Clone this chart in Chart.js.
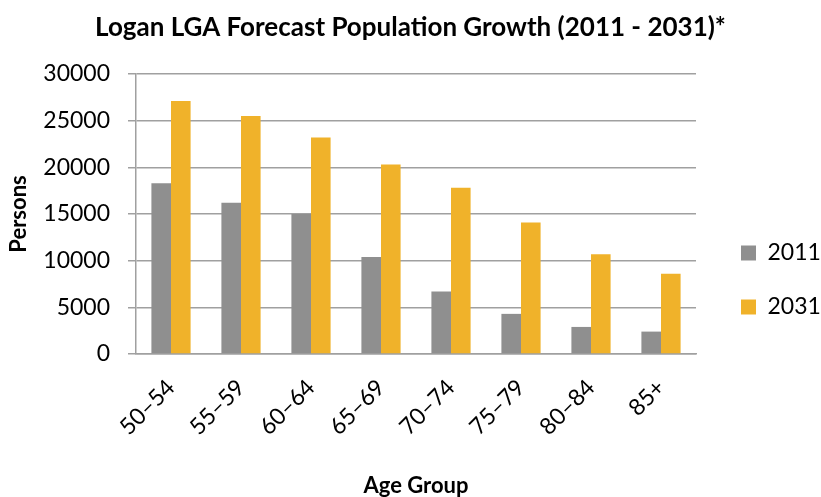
<!DOCTYPE html>
<html>
<head>
<meta charset="utf-8">
<script src="https://cdn.jsdelivr.net/npm/chart.js@4"></script>
<style>
  html, body { margin: 0; padding: 0; background: #fff; }
  #wrap { width: 821px; height: 497px; }
</style>
</head>
<body>
<div id="wrap"><canvas id="popChart"></canvas></div>
<script>
// Données
const ageGroups = ['50–54', '55–59', '60–64', '65–69', '70–74', '75–79', '80–84', '85+'];
const pop2011 = [18300, 16200, 15000, 10400, 6700, 4300, 2900, 2400];
const pop2031 = [27100, 25500, 23200, 20300, 17800, 14100, 10700, 8600];
const yTicks = [0, 5000, 10000, 15000, 20000, 25000, 30000];

const FONT = 'Lato, "Open Sans", sans-serif';
Chart.defaults.color = '#000';
Chart.defaults.font.family = FONT;

const popChart = new Chart(document.getElementById('popChart'), {
    type: 'bar',
    data: {
        labels: ageGroups,
        datasets: [{
            label: '2011',
            data: pop2011,
            backgroundColor: '#8f8f8f'
        }, {
            label: '2031',
            data: pop2031,
            backgroundColor: '#f0b22a'
        }]
    },
    options: {
        responsive: true,
        maintainAspectRatio: false,
        animation: false,
        datasets: {
            bar: { categoryPercentage: 0.56, barPercentage: 1 }
        },
        layout: { padding: 0 },
        plugins: {
            tooltip: { enabled: false },
            title: {
                display: true,
                text: 'Logan LGA Forecast Population Growth (2011 - 2031)*',
                font: { size: 26, weight: 'bold', lineHeight: 1.2 },
                padding: { top: 12, bottom: 30.8 }
            },
            legend: {
                position: 'right',
                maxWidth: 111,
                title: { display: true, text: '', font: { size: 10, lineHeight: 1 }, padding: { top: 53, bottom: 0 } },
                labels: {
                    boxWidth: 15,
                    boxHeight: 15,
                    padding: 31,
                    font: { size: 23 }
                }
            }
        },
        scales: {
            x: {
                grid: { display: false, drawTicks: false },
                border: { display: true, color: '#a0a0a0', width: 1.5 },
                ticks: { minRotation: 45, maxRotation: 45, padding: 20, font: { size: 23 } },
                title: { display: true, text: 'Age Group', font: { size: 22, weight: 'bold', lineHeight: 1 }, padding: { top: 0, bottom: 0 } },
                afterFit: (scale) => { scale.height = 143; }
            },
            y: {
                min: 0,
                max: 30000,
                afterBuildTicks: (scale) => { scale.ticks = yTicks.map(v => ({ value: v })); },
                grid: { color: '#a0a0a0', lineWidth: 1.5, tickLength: 8, drawTicks: true },
                border: { display: true, color: '#a0a0a0', width: 1.5 },
                ticks: { padding: 18, font: { size: 23 }, callback: (value) => String(value) },
                title: { display: true, text: 'Persons', font: { size: 22, weight: 'bold' }, padding: { top: 6, bottom: 0 } },
                afterFit: (scale) => { scale.width = 136; }
            },
            gap: {
                position: 'right',
                display: true,
                grid: { display: false },
                border: { display: false },
                ticks: { display: false },
                afterFit: (scale) => { scale.width = 14; }
            }
        }
    }
});
</script>
</body>
</html>
